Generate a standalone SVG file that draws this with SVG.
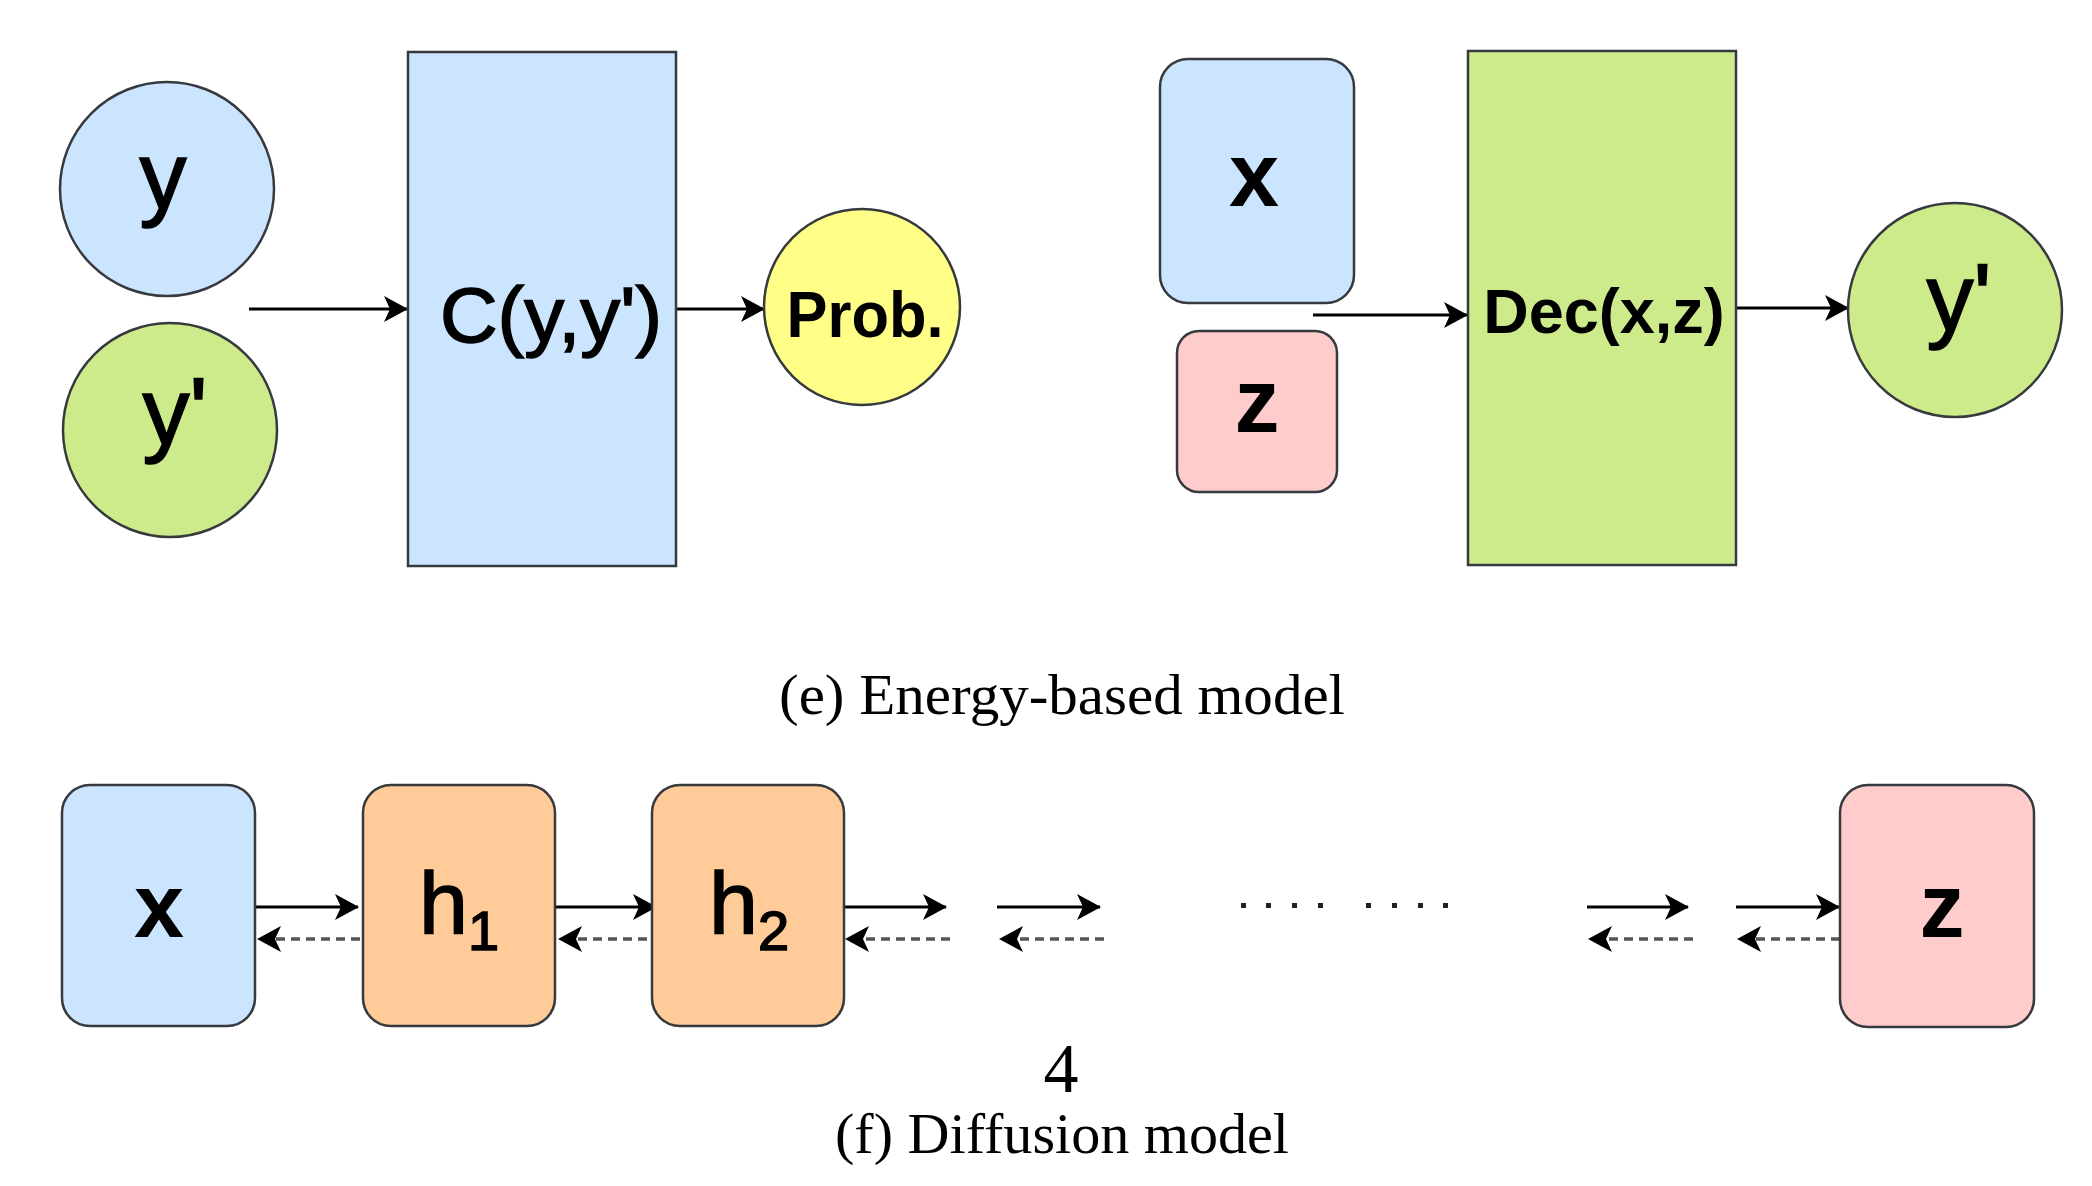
<svg xmlns="http://www.w3.org/2000/svg" width="2092" height="1186" viewBox="0 0 2092 1186">
<defs>
<style>
.nd{stroke:#36393d;stroke-width:2.5}
.blue{fill:#cce5ff}
.green{fill:#cdeb8b}
.yellow{fill:#ffff88}
.pink{fill:#ffcccc}
.orange{fill:#ffcc99}
.lbl{font-family:"Liberation Sans",Arial,sans-serif;fill:#000;text-anchor:middle}
.med{stroke:#000;stroke-width:1.6}
.b{font-weight:bold}
.cap{font-family:"Liberation Serif","Times New Roman",serif;fill:#000;text-anchor:middle}
.fw{fill:none;stroke:#000;stroke-width:3;marker-end:url(#ah)}
.bw{fill:none;stroke:#555;stroke-width:3.5;stroke-dasharray:9 6;marker-end:url(#ah)}
.dot{fill:#222}
</style>
<marker id="ah" viewBox="0 0 24 26" markerWidth="24" markerHeight="26" refX="23" refY="13" orient="auto" markerUnits="userSpaceOnUse">
<path d="M0,0 L24,13 L0,26 L6,13 Z" fill="#000"/>
</marker>
</defs>
<rect width="2092" height="1186" fill="#fff"/>

<g id="connectors">
<line class="fw" x1="249" y1="309" x2="407" y2="309"/>
<line class="fw" x1="677" y1="309" x2="764" y2="309"/>
<line class="fw" x1="1313" y1="315" x2="1467" y2="315"/>
<line class="fw" x1="1736" y1="308" x2="1848" y2="308"/>
<line class="fw" x1="255" y1="907" x2="358" y2="907"/>
<line class="bw" x1="360" y1="939" x2="258" y2="939"/>
<line class="fw" x1="555" y1="907" x2="656" y2="907"/>
<line class="bw" x1="662" y1="939" x2="559" y2="939"/>
<line class="fw" x1="843" y1="907" x2="946" y2="907"/>
<line class="bw" x1="950" y1="939" x2="846" y2="939"/>
<line class="fw" x1="997" y1="907" x2="1100" y2="907"/>
<line class="bw" x1="1104" y1="939" x2="1000" y2="939"/>
<line class="fw" x1="1587" y1="907" x2="1688" y2="907"/>
<line class="bw" x1="1693" y1="939" x2="1589" y2="939"/>
<line class="fw" x1="1736" y1="907" x2="1839" y2="907"/>
<line class="bw" x1="1840" y1="939" x2="1738" y2="939"/>
</g>

<g id="node-y">
<circle class="nd blue" cx="167" cy="189" r="107"/>
<text class="lbl med" x="163" y="208" font-size="94">y</text>
</g>
<g id="node-yprime">
<circle class="nd green" cx="170" cy="430" r="107"/>
<text class="lbl med" x="175" y="444" font-size="94">y'</text>
</g>
<g id="node-C">
<rect class="nd blue" x="408" y="52" width="268" height="514"/>
<text class="lbl med" x="551" y="342" font-size="77" textLength="222" lengthAdjust="spacingAndGlyphs">C(y,y')</text>
</g>
<g id="node-prob">
<circle class="nd yellow" cx="862" cy="307" r="98"/>
<text class="lbl b" x="865" y="337" font-size="64" textLength="157" lengthAdjust="spacingAndGlyphs">Prob.</text>
</g>

<g id="node-x-top">
<rect class="nd blue" x="1160" y="59" width="194" height="244" rx="28" ry="28"/>
<text class="lbl b" x="1254" y="206" font-size="90">x</text>
</g>
<g id="node-z-top">
<rect class="nd pink" x="1177" y="331" width="160" height="161" rx="22" ry="22"/>
<text class="lbl b" x="1257" y="432" font-size="90">z</text>
</g>
<g id="node-dec">
<rect class="nd green" x="1468" y="51" width="268" height="514"/>
<text class="lbl b" x="1604" y="333" font-size="63">Dec(x,z)</text>
</g>
<g id="node-yprime-right">
<circle class="nd green" cx="1955" cy="310" r="107"/>
<text class="lbl med" x="1959" y="330" font-size="94">y'</text>
</g>

<text class="cap" x="1062" y="714" font-size="58" textLength="566" lengthAdjust="spacingAndGlyphs">(e) Energy-based model</text>

<g id="node-x-bottom">
<rect class="nd blue" x="62" y="785" width="193" height="241" rx="28" ry="28"/>
<text class="lbl b" x="159" y="937" font-size="90">x</text>
</g>
<g id="node-h1">
<rect class="nd orange" x="363" y="785" width="192" height="241" rx="28" ry="28"/>
<text class="lbl med" x="459" y="933" font-size="88">h<tspan font-size="56" dy="17">1</tspan></text>
</g>
<g id="node-h2">
<rect class="nd orange" x="652" y="785" width="192" height="241" rx="28" ry="28"/>
<text class="lbl med" x="749" y="933" font-size="88">h<tspan font-size="56" dy="17">2</tspan></text>
</g>
<g id="dots">
<rect class="dot" x="1241" y="903" width="5" height="5"/>
<rect class="dot" x="1266" y="903" width="5" height="5"/>
<rect class="dot" x="1292" y="903" width="5" height="5"/>
<rect class="dot" x="1318" y="903" width="5" height="5"/>
<rect class="dot" x="1366" y="903" width="5" height="5"/>
<rect class="dot" x="1392" y="903" width="5" height="5"/>
<rect class="dot" x="1418" y="903" width="5" height="5"/>
<rect class="dot" x="1443" y="903" width="5" height="5"/>
</g>
<g id="node-z-bottom">
<rect class="nd pink" x="1840" y="785" width="194" height="242" rx="28" ry="28"/>
<text class="lbl b" x="1942" y="937" font-size="90">z</text>
</g>

<text class="cap" x="1061" y="1092" font-size="70">4</text>
<text class="cap" x="1062" y="1153" font-size="58" textLength="454" lengthAdjust="spacingAndGlyphs">(f) Diffusion model</text>
</svg>
